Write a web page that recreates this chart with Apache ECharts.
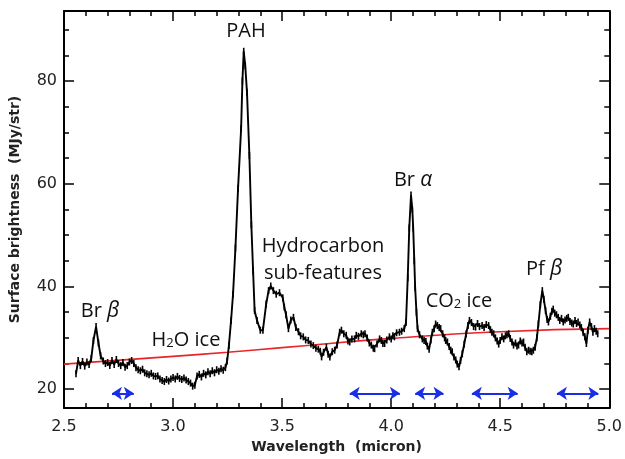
<!DOCTYPE html>
<html>
<head>
<meta charset="utf-8">
<script src="https://cdn.jsdelivr.net/npm/echarts@6/dist/echarts.min.js"></script>
<style>
  html, body { margin: 0; padding: 0; background: #fff; }
  #chart { width: 625px; height: 459px; }
</style>
</head>
<body>
<div id="chart"></div>
<script>
// spectrum (micron, MJy/str)
var wavelength = [
  2.555, 2.565, 2.575, 2.585, 2.595, 2.605, 2.615, 2.625, 2.635, 2.647,
  2.658, 2.668, 2.68, 2.69, 2.70, 2.71, 2.72, 2.73, 2.74, 2.75,
  2.76, 2.77, 2.78, 2.79, 2.80, 2.81, 2.82, 2.83, 2.84, 2.85,
  2.86, 2.87, 2.88, 2.89, 2.90, 2.91, 2.92, 2.93, 2.94, 2.95,
  2.96, 2.97, 2.98, 2.99, 3.00, 3.01, 3.02, 3.03, 3.04, 3.05,
  3.06, 3.07, 3.08, 3.09, 3.10, 3.11, 3.12, 3.13, 3.14, 3.15,
  3.16, 3.17, 3.18, 3.19, 3.20, 3.21, 3.22, 3.23, 3.24, 3.248,
  3.256, 3.266, 3.275, 3.286, 3.298, 3.312, 3.318, 3.324, 3.331, 3.339,
  3.350, 3.359, 3.367, 3.374, 3.385, 3.400, 3.412, 3.427, 3.438, 3.448,
  3.460, 3.473, 3.488, 3.503, 3.510, 3.518, 3.529, 3.540, 3.552, 3.563,
  3.575, 3.585, 3.597, 3.608, 3.620, 3.632, 3.643, 3.655, 3.666, 3.675,
  3.681, 3.690, 3.703, 3.711, 3.719, 3.730, 3.741, 3.752, 3.764, 3.772,
  3.783, 3.794, 3.802, 3.810, 3.820, 3.832, 3.840, 3.850, 3.863, 3.872,
  3.880, 3.890, 3.900, 3.909, 3.918, 3.924, 3.935, 3.947, 3.955, 3.962,
  3.970, 3.980, 3.992, 4.000, 4.008, 4.015, 4.025, 4.038, 4.048, 4.060,
  4.068, 4.076, 4.083, 4.091, 4.097, 4.101, 4.106, 4.110, 4.116, 4.121,
  4.130, 4.143, 4.151, 4.159, 4.166, 4.174, 4.182, 4.189, 4.197, 4.204,
  4.212, 4.220, 4.227, 4.236, 4.245, 4.250, 4.258, 4.266, 4.273, 4.280,
  4.288, 4.296, 4.303, 4.311, 4.318, 4.326, 4.335, 4.344, 4.352, 4.359,
  4.368, 4.378, 4.387, 4.396, 4.405, 4.417, 4.426, 4.436, 4.447, 4.455,
  4.462, 4.470, 4.478, 4.486, 4.493, 4.500, 4.508, 4.516, 4.524, 4.531,
  4.539, 4.546, 4.554, 4.561, 4.570, 4.577, 4.584, 4.592, 4.600, 4.607,
  4.614, 4.622, 4.630, 4.637, 4.645, 4.652, 4.660, 4.668, 4.675, 4.684,
  4.693, 4.700, 4.708, 4.715, 4.721, 4.730, 4.737, 4.743, 4.750, 4.758,
  4.766, 4.773, 4.781, 4.789, 4.797, 4.805, 4.812, 4.820, 4.828, 4.835,
  4.843, 4.850, 4.857, 4.865, 4.872, 4.880, 4.888, 4.895, 4.902, 4.910,
  4.918, 4.925, 4.932, 4.940, 4.947
];
var brightness = [
  23.0, 25.6, 24.6, 25.4, 24.5, 25.3, 24.8, 26.0, 29.5, 32.2,
  29.0, 26.5, 25.5, 25.0, 25.2, 24.6, 25.6, 24.8, 25.8, 25.0,
  24.6, 25.2, 24.3, 24.6, 25.3, 25.6, 25.0, 24.2, 23.8, 23.6,
  23.9, 23.2, 23.0, 22.8, 23.1, 22.6, 22.5, 22.6, 22.0, 21.7,
  21.5, 21.9, 21.6, 22.0, 22.3, 22.0, 22.5, 22.1, 21.9, 22.2,
  21.8, 21.5, 21.2, 20.6, 20.8, 22.6, 22.9, 22.4, 23.1, 22.8,
  23.4, 23.0, 23.6, 23.2, 23.8, 23.5, 24.0, 23.7, 24.2, 25.5,
  28.5, 33.4, 38.5, 47.5, 59.1, 70.7, 80.0, 85.8, 83.0, 77.8,
  65.5, 52.0, 43.0, 35.3, 33.4, 31.5, 31.5, 36.6, 39.2, 40.1,
  39.2, 38.5, 38.8, 37.8, 36.0, 34.5, 31.8, 33.5, 34.0, 32.0,
  31.2, 30.4, 30.2, 29.6, 29.5, 28.8, 28.5, 28.0, 27.8, 27.4,
  26.3, 27.2, 28.2, 26.8, 26.3, 27.3, 27.6, 28.6, 31.1, 31.5,
  30.8, 30.5, 29.4, 29.2, 29.8, 29.8, 30.5, 30.3, 30.8, 30.6,
  30.8, 30.0, 29.0, 28.6, 28.0, 27.9, 28.8, 29.8, 29.5, 28.9,
  28.9, 29.6, 30.2, 29.8, 30.4, 30.2, 31.0, 31.1, 31.3, 31.8,
  33.0, 41.7, 51.4, 57.8, 55.0, 51.4, 45.0, 39.8, 35.0, 31.8,
  30.6, 29.8, 29.5, 29.3, 28.4, 27.8, 29.6, 31.1, 31.8, 32.7,
  32.4, 32.0, 31.8, 30.8, 30.0, 29.5, 29.2, 28.3, 27.6, 27.3,
  26.3, 25.7, 24.9, 24.4, 25.6, 26.9, 28.8, 30.8, 32.4, 33.4,
  33.0, 32.2, 32.1, 32.8, 32.2, 32.4, 32.0, 32.6, 32.4, 31.6,
  31.1, 30.8, 30.0, 29.4, 28.8, 29.5, 30.2, 29.8, 30.4, 30.6,
  30.8, 29.9, 29.2, 28.6, 29.0, 28.4, 28.6, 29.4, 29.0, 29.2,
  28.2, 27.3, 27.6, 27.4, 27.3, 27.6, 28.2, 30.0, 32.7, 36.5,
  39.2, 37.5, 35.3, 33.6, 33.1, 34.2, 35.2, 35.6, 34.8, 34.5,
  34.0, 33.4, 33.8, 33.1, 33.5, 33.8, 34.0, 33.2, 32.9, 32.7,
  33.4, 32.8, 33.1, 32.5, 32.0, 31.1, 30.2, 28.9, 31.5, 33.1,
  32.2, 31.1, 31.8, 31.3, 30.8
];

// continuum fit (red)
var contWavelength = [2.5, 3.0, 3.25, 3.5, 4.0, 4.5, 5.0];
var contBrightness = [24.9, 26.4, 27.2, 28.1, 29.9, 31.2, 31.8];

// blue double arrows (micron ranges) drawn at this level
var arrowRanges = [[2.72, 2.82], [3.81, 4.04], [4.11, 4.24], [4.37, 4.58], [4.76, 4.95]];
var arrowLevel = 19.2;

// tick values
var yMajorTicks = [20, 40, 60, 80];
var yMinorTicks = [20, 25, 30, 35, 40, 45, 50, 55, 60, 65, 70, 75, 80, 85, 90];

var chart = echarts.init(document.getElementById('chart'));

var spectrum = wavelength.map(function (w, i) { return [w, brightness[i]]; });
var continuum = contWavelength.map(function (w, i) { return [w, contBrightness[i]]; });
var arrows = arrowRanges.map(function (r) {
    return { coords: [[r[0], arrowLevel], [r[1], arrowLevel]] };
});

var axisFont = 'DejaVu Sans';
var noteFont = 'Open Sans';
var lineStyle = { color: '#000', width: 2 };

function xAxisDef(pos, showLabel) {
    return {
        type: 'value', position: pos, min: 2.5, max: 5.0, interval: 0.5,
        name: showLabel ? 'Wavelength  (micron)' : '',
        nameLocation: 'middle', nameGap: 31,
        nameTextStyle: { fontFamily: axisFont, fontSize: 14, color: '#222', fontWeight: 'bold' },
        axisLine: { show: true, onZero: false, lineStyle: lineStyle },
        axisTick: { show: true, inside: true, length: 10, lineStyle: { color: '#000', width: 1.5 } },
        minorTick: { show: true, splitNumber: 5, length: 5, lineStyle: { color: '#000', width: 1.5 } },
        axisLabel: {
            show: showLabel, margin: 11, fontFamily: axisFont, fontSize: 16, color: '#222',
            formatter: function (v) { return v.toFixed(1); }
        },
        splitLine: { show: false }
    };
}

function yAxisDef(pos, ticks, len, showLabel, showLine) {
    return {
        type: 'value', position: pos, min: 16.33, max: 93.64,
        name: showLabel ? 'Surface brightness  (MJy/str)' : '',
        nameLocation: 'middle', nameGap: 42,
        nameTextStyle: { fontFamily: axisFont, fontSize: 14, color: '#222', fontWeight: 'bold' },
        axisLine: { show: showLine, onZero: false, lineStyle: lineStyle },
        axisTick: { show: true, inside: true, length: len, customValues: ticks,
                    lineStyle: { color: '#000', width: 1.5 } },
        axisLabel: { show: showLabel, customValues: yMajorTicks, margin: 7,
                     fontFamily: axisFont, fontSize: 16, color: '#222' },
        splitLine: { show: false }
    };
}

function note(x, y, rich, text) {
    return {
        type: 'text', x: x, y: y,
        style: {
            text: text, rich: rich, align: 'center', verticalAlign: 'middle',
            fontFamily: noteFont, fontSize: 20, fill: '#111'
        }
    };
}

var richNote = {
    g: { fontFamily: noteFont, fontSize: 21, fontStyle: 'italic', fill: '#111' },
    s: { fontFamily: noteFont, fontSize: 13, fill: '#111', padding: [7, 0, 0, 0] },
    n: { fontFamily: noteFont, fontSize: 20, fill: '#111' }
};

var option = {
    animation: false,
    backgroundColor: '#fff',
    grid: { left: 64, right: 12, top: 11, bottom: 47 },
    xAxis: [xAxisDef('bottom', true), xAxisDef('top', false)],
    yAxis: [
        yAxisDef('left', yMajorTicks, 10, true, true),
        yAxisDef('left', yMinorTicks, 5, false, false),
        yAxisDef('right', yMajorTicks, 10, false, true),
        yAxisDef('right', yMinorTicks, 5, false, false)
    ],
    graphic: [
        note(246, 31, richNote, '{n|PAH}'),
        note(413, 180, richNote, '{n|Br }{g|α}'),
        note(323, 246, richNote, '{n|Hydrocarbon}'),
        note(323, 273, richNote, '{n|sub-features}'),
        note(100, 311, richNote, '{n|Br }{g|β}'),
        note(186, 340, richNote, '{n|H}{s|2}{n|O ice}'),
        note(459, 301, richNote, '{n|CO}{s|2}{n| ice}'),
        note(544, 269, richNote, '{n|Pf }{g|β}')
    ],
    series: [
        {
            type: 'line', data: continuum, smooth: true, symbol: 'none',
            lineStyle: { color: '#e8262a', width: 1.6 }, z: 3
        },
        {
            type: 'line', data: spectrum, symbol: 'rect', symbolSize: [1.6, 7],
            showSymbol: true,
            itemStyle: { color: '#000' },
            lineStyle: { color: '#000', width: 1.9 }, z: 4
        },
        {
            type: 'lines', coordinateSystem: 'cartesian2d', data: arrows,
            symbol: ['arrow', 'arrow'], symbolSize: 10,
            lineStyle: { color: '#1a2ee6', width: 2.2, opacity: 1 }, z: 5
        }
    ]
};

chart.setOption(option);
</script>
</body>
</html>
